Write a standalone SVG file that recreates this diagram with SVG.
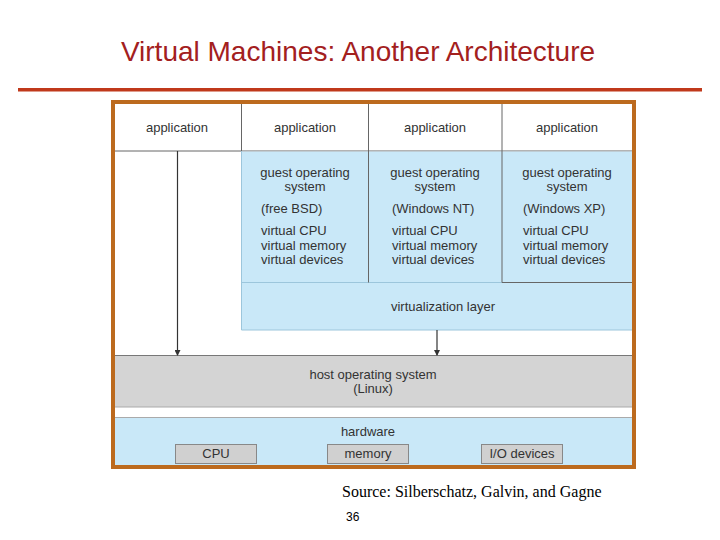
<svg xmlns="http://www.w3.org/2000/svg" width="720" height="540" viewBox="0 0 720 540">
<defs>
<style>
.t{font-family:"Liberation Sans",Arial,sans-serif;font-size:13px;fill:#333}
.c{text-anchor:middle}
.blue{fill:#C9E8F8}
.ln{stroke:#666;stroke-width:1;fill:none}
.lt{stroke:#9CC6DC;stroke-width:1;fill:none}
.box{fill:#D0D0D0;stroke:#888;stroke-width:1}
</style>
<marker id="ah" viewBox="0 0 6 6" refX="5" refY="3" markerWidth="6" markerHeight="6" orient="auto" markerUnits="userSpaceOnUse">
<path d="M0,0 L6,3 L0,6 z" fill="#333"/>
</marker>
</defs>
<rect width="720" height="540" fill="#fff"/>
<text x="358" y="61" text-anchor="middle" font-family="'Liberation Sans',Arial,sans-serif" font-size="28" fill="#A3201E">Virtual Machines: Another Architecture</text>
<rect x="18" y="88" width="684" height="3.5" fill="#C0391B"/>

<g id="apps">
<rect x="115" y="104" width="517" height="47" fill="#fff"/>
<line class="ln" x1="115" y1="151" x2="632" y2="151"/>
<line class="ln" x1="241.5" y1="104" x2="241.5" y2="151"/>
<line class="ln" x1="368.5" y1="104" x2="368.5" y2="151"/>
<line class="ln" x1="502" y1="104" x2="502" y2="151"/>
<text class="t c" x="177" y="132">application</text>
<text class="t c" x="305" y="132">application</text>
<text class="t c" x="435" y="132">application</text>
<text class="t c" x="567" y="132">application</text>
</g>

<g id="guest1">
<rect class="blue" x="241.5" y="151.5" width="127" height="131"/>
<text class="t c" x="305" y="177">guest operating</text>
<text class="t c" x="305" y="191">system</text>
<text class="t" x="261" y="213">(free BSD)</text>
<text class="t" x="261" y="235">virtual CPU</text>
<text class="t" x="261" y="250">virtual memory</text>
<text class="t" x="261" y="264">virtual devices</text>
</g>
<g id="guest2">
<rect class="blue" x="368.5" y="151.5" width="133.5" height="131"/>
<text class="t c" x="435" y="177">guest operating</text>
<text class="t c" x="435" y="191">system</text>
<text class="t" x="392" y="213">(Windows NT)</text>
<text class="t" x="392" y="235">virtual CPU</text>
<text class="t" x="392" y="250">virtual memory</text>
<text class="t" x="392" y="264">virtual devices</text>
</g>
<g id="guest3">
<rect class="blue" x="502" y="151.5" width="130" height="131"/>
<text class="t c" x="567" y="177">guest operating</text>
<text class="t c" x="567" y="191">system</text>
<text class="t" x="523" y="213">(Windows XP)</text>
<text class="t" x="523" y="235">virtual CPU</text>
<text class="t" x="523" y="250">virtual memory</text>
<text class="t" x="523" y="264">virtual devices</text>
</g>
<g id="virt">
<rect class="blue" x="241.5" y="282.5" width="390.5" height="47.5"/>
<line class="lt" x1="241.5" y1="282.5" x2="502" y2="282.5"/>
<line class="ln" x1="502" y1="282.5" x2="632" y2="282.5"/>
<line class="ln" x1="368.5" y1="151" x2="368.5" y2="282.5"/>
<line class="ln" x1="502" y1="151" x2="502" y2="282.5"/>
<line class="lt" x1="241.5" y1="151" x2="241.5" y2="330"/>
<line class="lt" x1="241.5" y1="330" x2="632" y2="330"/>
<text class="t c" x="443" y="311">virtualization layer</text>
</g>
<g id="host">
<rect x="115" y="355" width="517" height="52" fill="#D4D4D4"/>
<line x1="115" y1="355.5" x2="632" y2="355.5" stroke="#777"/>
<line x1="115" y1="407" x2="632" y2="407" stroke="#AAA"/>
<text class="t c" x="373" y="379">host operating system</text>
<text class="t c" x="373" y="393">(Linux)</text>
</g>
<g id="hardware">
<rect class="blue" x="115" y="417.5" width="517" height="48"/>
<line x1="115" y1="417.5" x2="632" y2="417.5" stroke="#AAA"/>
<text class="t c" x="368" y="436">hardware</text>
<g id="cpu"><rect class="box" x="175.5" y="444.5" width="81" height="19"/><text class="t c" x="216" y="458">CPU</text></g>
<g id="memory"><rect class="box" x="327.5" y="444.5" width="81" height="19"/><text class="t c" x="368" y="458">memory</text></g>
<g id="io"><rect class="box" x="481.5" y="444.5" width="81" height="19"/><text class="t c" x="522" y="458">I/O devices</text></g>
</g>
<g id="connectors">
<line x1="177.5" y1="151" x2="177.5" y2="355" stroke="#333" stroke-width="1.2" marker-end="url(#ah)"/>
<line x1="437" y1="330" x2="437" y2="355" stroke="#333" stroke-width="1.2" marker-end="url(#ah)"/>
</g>
<rect x="113" y="102" width="521" height="365" fill="none" stroke="#BC6A1E" stroke-width="4"/>
<text x="342" y="497" font-family="'Liberation Serif','Times New Roman',serif" font-size="16" fill="#000">Source: Silberschatz, Galvin, and Gagne</text>
<text x="346" y="521" font-family="'Liberation Sans',Arial,sans-serif" font-size="12" fill="#000">36</text>
</svg>
